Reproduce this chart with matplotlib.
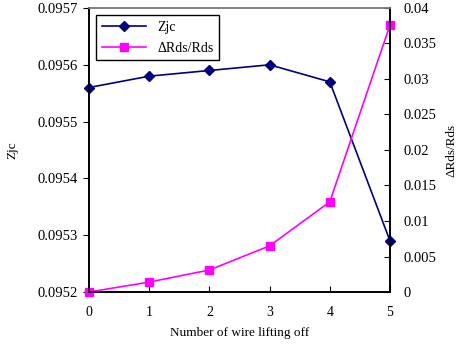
import numpy as np
import matplotlib.pyplot as plt
from matplotlib.ticker import FormatStrFormatter

plt.rcParams['font.family'] = ['Liberation Serif', 'DejaVu Serif']
plt.rcParams['font.size'] = 9.5

# data
n_wire = [0, 1, 2, 3, 4, 5]
zjc = [0.09556, 0.09558, 0.09559, 0.09560, 0.09557, 0.09529]
d_rds = [0.0, 0.0014, 0.0031, 0.0065, 0.0127, 0.0376]

fig = plt.figure(figsize=(4.58, 3.45), dpi=100)
ax = fig.add_axes([89/458, 1 - 292/345, 301/458, 284/345])

l1, = ax.plot(n_wire, zjc, color='#000080', marker='D', markersize=5,
              linewidth=1.2, label='Zjc')
ax.set_xlim(0, 5)
ax.set_ylim(0.0952, 0.0957)
ax.set_yticks(np.arange(0.0952, 0.09571, 0.0001))
ax.yaxis.set_major_formatter(FormatStrFormatter('%.4f'))
ax.set_xticks(n_wire)
ax.tick_params(axis='x', direction='in', length=4, pad=10, labelsize=10)
ax.tick_params(axis='y', direction='out', length=4, pad=4, labelsize=10.5)
ax.set_xlabel('Number of wire lifting off', labelpad=6)
ax.set_ylabel('Zjc', labelpad=14)

ax2 = ax.twinx()
l2, = ax2.plot(n_wire, d_rds, color='#FF00FF', marker='s', markersize=6,
               linewidth=1.2, label='ΔRds/Rds')
ax2.set_ylim(0, 0.04)
ax2.set_yticks([0, 0.005, 0.01, 0.015, 0.02, 0.025, 0.03, 0.035, 0.04])
ax2.set_yticklabels(['0', '0.005', '0.01', '0.015', '0.02', '0.025',
                     '0.03', '0.035', '0.04'])
ax2.tick_params(axis='y', direction='in', length=4, pad=10, labelsize=10.5)
ax2.set_ylabel('ΔRds/Rds', labelpad=6)

for a in (ax, ax2):
    for s in a.spines.values():
        s.set_linewidth(1.2)
ax.spines['top'].set_color('#808080')
ax2.spines['top'].set_color('#808080')

for l in (l1, l2):
    l.set_clip_on(False)

leg = ax.legend(handles=[l1, l2], loc='upper left', fancybox=False,
                edgecolor='black', framealpha=1, borderaxespad=0.5,
                handlelength=3.2, labelspacing=0.6, fontsize=10)
leg.get_frame().set_linewidth(1.0)

fig.savefig('out.png', dpi=100)
